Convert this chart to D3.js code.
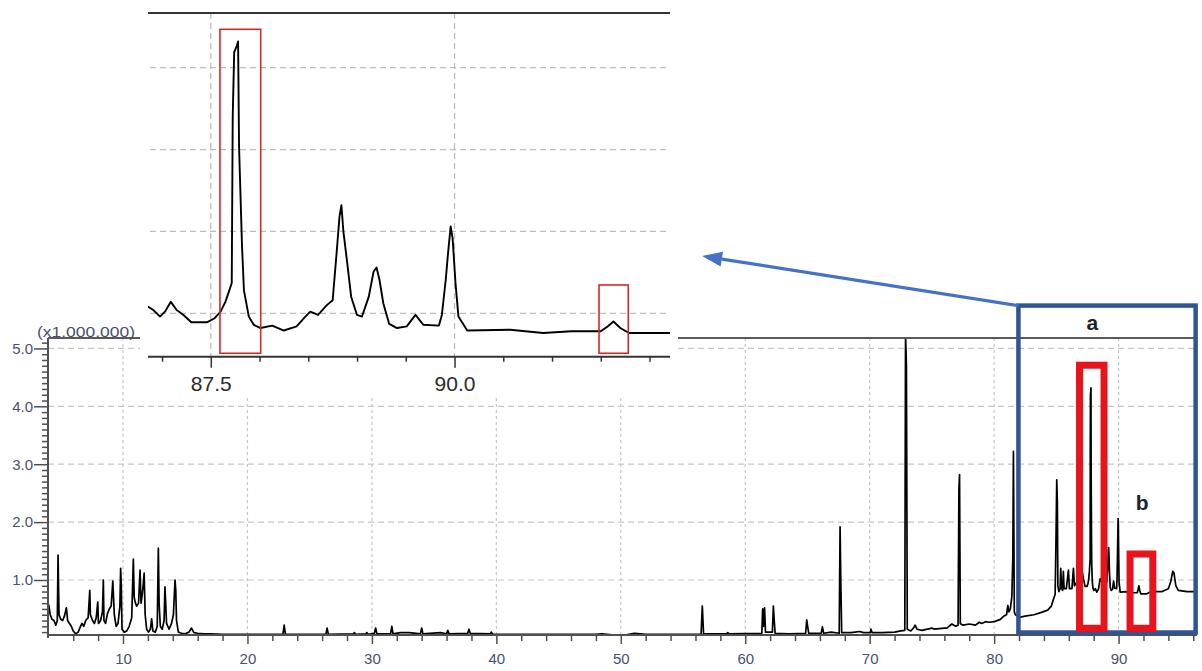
<!DOCTYPE html>
<html><head><meta charset="utf-8">
<script src="https://cdn.jsdelivr.net/npm/d3@7"></script>
<style>body{margin:0;background:#fff}svg{display:block;background:#fff}</style>
</head><body><svg id="c" width="1202" height="671"></svg>
<script>
// ---------- DATA (retention time in min, intensity in x1,000,000) ----------
const retentionTime = [
  3.97,4.05,4.15,4.30,4.45,4.60,4.72,4.78,4.82,4.86,
  5.00,5.15,5.30,5.45,5.55,5.70,5.85,6.00,6.20,6.40,
  6.55,6.70,6.85,7.00,7.20,7.33,7.38,7.55,7.70,7.85,
  7.97,8.03,8.20,8.35,8.42,8.47,8.60,8.75,8.90,9.05,
  9.18,9.24,9.30,9.45,9.60,9.75,9.81,9.86,9.92,10.10,
  10.30,10.50,10.70,10.83,10.90,11.00,11.10,11.25,11.37,11.45,
  11.55,11.70,11.78,11.90,12.05,12.20,12.30,12.40,12.60,12.75,
  12.84,12.90,13.00,13.15,13.30,13.37,13.43,13.50,13.70,13.90,
  14.05,14.18,14.24,14.30,14.45,14.70,15.00,15.30,15.50,15.70,
  16.00,16.50,17.00,18.00,19.00,20.00,21.00,22.00,22.85,22.95,
  23.05,26.30,26.40,26.50,28.50,28.60,28.70,29.50,29.60,29.70,
  30.20,30.30,30.40,31.50,31.60,31.70,32.30,33.00,33.90,34.00,
  34.10,35.50,36.00,36.10,36.20,37.70,37.80,37.90,39.50,39.60,
  39.70,42.00,45.00,48.00,48.50,49.50,50.10,51.10,52.00,55.00,
  56.45,56.55,56.65,58.50,58.60,58.70,61.33,61.40,61.47,61.55,
  61.63,62.18,62.26,62.32,62.40,63.50,64.85,64.94,65.00,65.10,
  66.10,66.20,66.30,66.90,67.55,67.62,67.68,67.75,68.50,69.20,
  69.50,70.05,70.10,70.20,71.00,72.00,72.50,72.82,72.88,72.95,
  73.02,73.30,73.55,73.65,73.80,74.20,75.00,75.20,76.00,76.20,
  76.60,76.90,77.10,77.17,77.22,77.28,77.50,78.00,78.50,78.80,
  79.00,79.30,79.60,80.00,80.50,80.80,81.00,81.10,81.18,81.30,
  81.42,81.50,81.55,81.62,81.70,82.10,82.60,83.20,83.80,84.30,
  84.60,84.75,84.90,84.97,85.03,85.08,85.12,85.20,85.30,85.35,
  85.42,85.50,85.56,85.62,85.80,85.97,86.05,86.25,86.37,86.45,
  86.60,86.75,86.86,86.91,86.98,87.03,87.09,87.15,87.22,87.30,
  87.46,87.54,87.60,87.65,87.69,87.715,87.725,87.74,87.765,87.78,
  87.79,87.82,87.84,87.89,87.94,88.01,88.13,88.25,88.38,88.47,
  88.52,88.60,88.69,88.75,88.79,88.82,88.84,88.86,88.90,88.94,
  89.00,89.05,89.12,89.17,89.20,89.23,89.27,89.33,89.41,89.51,
  89.56,89.60,89.64,89.68,89.84,89.87,89.91,89.93,89.96,89.98,
  90.01,90.04,90.13,90.57,90.91,91.20,91.50,91.57,91.63,91.70,
  91.79,92.22,92.50,93.00,93.50,94.00,94.20,94.35,94.45,94.60,
  94.80,95.50,96.30
];
const intensity = [
  0.60,0.55,0.40,0.32,0.30,0.22,0.30,1.43,0.90,0.40,
  0.32,0.30,0.38,0.52,0.30,0.25,0.20,0.12,0.07,0.10,
  0.18,0.25,0.20,0.30,0.35,0.82,0.40,0.30,0.25,0.35,
  0.62,0.25,0.30,0.45,1.00,0.30,0.25,0.42,0.50,0.55,
  0.98,0.70,0.40,0.20,0.25,0.55,1.20,0.90,0.15,0.10,
  0.12,0.20,0.35,1.36,0.70,0.60,0.55,0.60,1.17,0.60,
  0.75,1.12,0.40,0.15,0.10,0.15,0.33,0.12,0.10,0.20,
  1.55,0.60,0.20,0.15,0.30,0.88,0.60,0.25,0.15,0.25,
  0.40,1.00,0.82,0.30,0.10,0.08,0.07,0.10,0.17,0.09,
  0.08,0.07,0.07,0.06,0.06,0.06,0.06,0.06,0.06,0.22,
  0.06,0.06,0.17,0.06,0.07,0.09,0.06,0.07,0.09,0.06,
  0.08,0.17,0.07,0.07,0.20,0.07,0.09,0.09,0.07,0.17,
  0.07,0.09,0.07,0.13,0.07,0.08,0.15,0.08,0.07,0.10,
  0.06,0.06,0.06,0.06,0.07,0.05,0.04,0.08,0.06,0.06,
  0.06,0.55,0.07,0.07,0.09,0.07,0.08,0.50,0.20,0.52,
  0.10,0.10,0.55,0.33,0.08,0.07,0.08,0.31,0.22,0.08,
  0.08,0.19,0.08,0.10,0.08,1.92,0.95,0.09,0.09,0.11,
  0.09,0.09,0.15,0.09,0.09,0.10,0.12,0.13,5.25,4.71,
  0.15,0.12,0.18,0.22,0.15,0.13,0.17,0.15,0.17,0.17,
  0.24,0.20,0.22,2.57,2.82,0.25,0.22,0.24,0.22,0.27,
  0.25,0.28,0.27,0.28,0.32,0.38,0.40,0.56,0.45,0.50,
  0.71,1.38,3.22,0.45,0.40,0.36,0.38,0.40,0.44,0.48,
  0.55,0.66,0.75,1.70,2.73,2.35,0.90,0.80,0.85,1.20,
  0.85,0.82,1.15,0.85,0.85,1.17,0.85,0.85,1.20,0.90,
  0.95,1.00,1.08,1.04,0.96,1.02,1.14,1.04,0.98,0.89,
  0.89,0.94,1.02,1.14,1.28,1.37,3.40,4.19,4.26,4.32,
  3.03,1.83,1.28,0.96,0.86,0.82,0.85,0.79,0.84,0.96,
  1.02,0.98,1.10,1.16,1.73,2.18,2.32,2.00,1.61,1.20,
  0.98,0.96,1.20,1.51,1.56,1.41,1.12,0.87,0.82,0.84,
  0.92,0.98,0.92,0.86,0.85,0.98,1.41,1.69,2.06,1.92,
  1.37,0.96,0.79,0.80,0.76,0.78,0.78,0.84,0.90,0.82,
  0.76,0.76,0.79,0.80,0.80,0.85,0.98,1.15,1.12,0.90,
  0.82,0.80,0.80
];
const xTickLabels = [10, 20, 30, 40, 50, 60, 70, 80, 90];
const yTickLabels = [1, 2, 3, 4, 5];
const insetTickLabels = [87.5, 90.0];
const insetGridValues = [1, 2, 3, 4];
const unitLabel = "(x1,000,000)";
// annotations, in data units: [t0, t1, vTop, vBottom]
const zoomRegionA = [81.95, 96.19, 5.74, 0.093];
const mainRedBoxes = [[86.86, 88.83, 4.71, 0.166], [90.92, 92.75, 1.449, 0.166]];
const insetRedBoxes = [[87.594, 88.012, 4.469, 0.512], [91.482, 91.782, 1.346, 0.512]];
const regionLabels = [{text: "a", t: 87.9, v: 5.32}, {text: "b", t: 91.89, v: 2.21}];
const arrowFromTo = [[81.95, 5.74], [56.53, 6.597]];

// ---------- CHART ----------
const svg = d3.select("#c");
const data = d3.zip(retentionTime, intensity);
const x = d3.scaleLinear().domain([3.973, 96.3]).range([48, 1197]);
const y = d3.scaleLinear().domain([0.05, 5.18]).range([635, 338]);
const [X0, X1] = x.range(), [Y0, Y1] = y.range();
const FONT = "'Liberation Sans', Arial, sans-serif";
const LABEL_COLOR = "#4a5070";

const defs = svg.append("defs");
defs.append("clipPath").attr("id", "mainClip").append("rect")
  .attr("x", X0).attr("y", Y1).attr("width", X1 - X0).attr("height", Y0 - Y1);

// grid
const grid = svg.append("g");
grid.selectAll("line.gh").data(yTickLabels).join("line").attr("class", "gh")
  .attr("x1", X0).attr("x2", X1).attr("y1", d => y(d)).attr("y2", d => y(d))
  .attr("stroke", "#c6c6c6").attr("stroke-width", 1.2).attr("stroke-dasharray", "6,4");
grid.selectAll("line.gv").data(xTickLabels).join("line").attr("class", "gv")
  .attr("x1", d => x(d)).attr("x2", d => x(d)).attr("y1", Y1).attr("y2", Y0)
  .attr("stroke", "#c6c6c6").attr("stroke-width", 1.2).attr("stroke-dasharray", "3,3");

// trace
const line = d3.line().x(d => x(d[0])).y(d => y(d[1]));
svg.append("path").datum(data).attr("clip-path", "url(#mainClip)")
  .attr("d", line).attr("fill", "none").attr("stroke", "#000").attr("stroke-width", 1.7)
  .attr("stroke-linejoin", "round");

// axes
const AX = "#505050";
const xMinor = d3.range(6, 97, 2).filter(d => d % 10 !== 0);
svg.append("g").attr("transform", `translate(0,${Y0})`)
  .call(d3.axisBottom(x).tickValues(xMinor).tickSize(6).tickFormat(""))
  .call(g => g.select(".domain").remove())
  .call(g => g.selectAll("line").attr("stroke", AX).attr("stroke-width", 1.5));
svg.append("g").attr("transform", `translate(0,${Y0})`)
  .call(d3.axisBottom(x).tickValues(xTickLabels).tickSize(9).tickPadding(9).tickFormat(d3.format("d")))
  .call(g => g.select(".domain").remove())
  .call(g => g.selectAll("line").attr("stroke", AX).attr("stroke-width", 1.5))
  .call(g => g.selectAll("text").attr("font-family", FONT).attr("font-size", 15).attr("fill", LABEL_COLOR));
const yMinor = d3.range(1, 52).filter(i => i % 10 !== 0).map(i => i / 10);
svg.append("g").attr("transform", `translate(${X0},0)`)
  .call(d3.axisLeft(y).tickValues(yMinor).tickSize(6).tickFormat(""))
  .call(g => g.select(".domain").remove())
  .call(g => g.selectAll("line").attr("stroke", AX).attr("stroke-width", 1.5));
svg.append("g").attr("transform", `translate(${X0},0)`)
  .call(d3.axisLeft(y).tickValues(yTickLabels).tickSize(14).tickPadding(1).tickFormat(d3.format(".1f")))
  .call(g => g.select(".domain").remove())
  .call(g => g.selectAll("line").attr("stroke", AX).attr("stroke-width", 1.5))
  .call(g => g.selectAll("text").attr("font-family", FONT).attr("font-size", 15).attr("fill", LABEL_COLOR));
// axis lines + top frame
svg.append("line").attr("x1", X0).attr("x2", X0).attr("y1", Y1).attr("y2", Y0 + 3)
  .attr("stroke", AX).attr("stroke-width", 2);
svg.append("line").attr("x1", X0).attr("x2", X1).attr("y1", Y0).attr("y2", Y0)
  .attr("stroke", AX).attr("stroke-width", 2);
svg.append("line").attr("x1", X0).attr("x2", X1).attr("y1", Y1).attr("y2", Y1)
  .attr("stroke", "#5a5a5a").attr("stroke-width", 2);
svg.append("text").attr("x", X0 - 11).attr("y", Y1 - 1).text(unitLabel)
  .attr("font-family", FONT).attr("font-size", 15).attr("fill", LABEL_COLOR)
  .attr("textLength", 98).attr("lengthAdjust", "spacingAndGlyphs");

// ---------- INSET ----------
const ix = d3.scaleLinear().domain([86.856, 92.21]).range([148, 670]);
const iy = d3.scaleLinear().domain([0.47, 4.668]).range([356.7, 13]);
const [IX0, IX1] = ix.range(), [IY0, IY1] = iy.range();
const inset = svg.append("g");
inset.append("rect").attr("x", IX0 - 8).attr("y", 0).attr("width", IX1 - IX0 + 16).attr("height", 398)
  .attr("fill", "#fff");
defs.append("clipPath").attr("id", "insetClip").append("rect")
  .attr("x", IX0).attr("y", IY1).attr("width", IX1 - IX0).attr("height", IY0 - IY1);
inset.selectAll("line.ih").data(insetGridValues).join("line").attr("class", "ih")
  .attr("x1", IX0 + 2).attr("x2", IX1).attr("y1", d => iy(d)).attr("y2", d => iy(d))
  .attr("stroke", "#bdbdbd").attr("stroke-width", 1.3).attr("stroke-dasharray", "6,4");
inset.selectAll("line.iv").data(insetTickLabels).join("line").attr("class", "iv")
  .attr("x1", d => ix(d)).attr("x2", d => ix(d)).attr("y1", IY1).attr("y2", IY0)
  .attr("stroke", "#bdbdbd").attr("stroke-width", 1.3).attr("stroke-dasharray", "6,4");
const iline = d3.line().x(d => ix(d[0])).y(d => iy(d[1]));
inset.append("path").datum(data.filter(d => d[0] >= 86.7 && d[0] <= 92.4))
  .attr("clip-path", "url(#insetClip)").attr("d", iline)
  .attr("fill", "none").attr("stroke", "#000").attr("stroke-width", 1.9).attr("stroke-linejoin", "round");
const insetMinor = d3.range(174, 185).map(i => i / 2).filter(d => !insetTickLabels.includes(d));
inset.append("g").attr("transform", `translate(0,${IY0})`)
  .call(d3.axisBottom(ix).tickValues(insetMinor).tickSize(5).tickFormat(""))
  .call(g => g.select(".domain").remove())
  .call(g => g.selectAll("line").attr("stroke", "#333").attr("stroke-width", 1.5));
inset.append("g").attr("transform", `translate(0,${IY0})`)
  .call(d3.axisBottom(ix).tickValues(insetTickLabels).tickSize(11).tickPadding(8).tickFormat(d3.format(".1f")))
  .call(g => g.select(".domain").remove())
  .call(g => g.selectAll("line").attr("stroke", "#333").attr("stroke-width", 1.5))
  .call(g => g.selectAll("text").attr("font-family", FONT).attr("font-size", 21).attr("fill", "#2a2a2a"));
inset.append("line").attr("x1", IX0).attr("x2", IX1).attr("y1", IY0).attr("y2", IY0)
  .attr("stroke", "#333").attr("stroke-width", 2);
inset.append("line").attr("x1", IX0).attr("x2", IX1).attr("y1", IY1).attr("y2", IY1)
  .attr("stroke", "#333").attr("stroke-width", 2);
inset.selectAll("rect.ibox").data(insetRedBoxes).join("rect").attr("class", "ibox")
  .attr("x", d => ix(d[0])).attr("y", d => iy(d[2]))
  .attr("width", d => ix(d[1]) - ix(d[0])).attr("height", d => iy(d[3]) - iy(d[2]))
  .attr("fill", "none").attr("stroke", "#d42a2a").attr("stroke-width", 1.6);

// ---------- ANNOTATIONS ----------
svg.append("rect")
  .attr("x", x(zoomRegionA[0])).attr("y", y(zoomRegionA[2]))
  .attr("width", x(zoomRegionA[1]) - x(zoomRegionA[0])).attr("height", y(zoomRegionA[3]) - y(zoomRegionA[2]))
  .attr("fill", "none").attr("stroke", "#2F5597").attr("stroke-width", 4.5);
svg.selectAll("rect.mbox").data(mainRedBoxes).join("rect").attr("class", "mbox")
  .attr("x", d => x(d[0])).attr("y", d => y(d[2]))
  .attr("width", d => x(d[1]) - x(d[0])).attr("height", d => y(d[3]) - y(d[2]))
  .attr("fill", "none").attr("stroke", "#E8131B").attr("stroke-width", 7);
svg.selectAll("text.rl").data(regionLabels).join("text").attr("class", "rl")
  .attr("x", d => x(d.t)).attr("y", d => y(d.v)).attr("text-anchor", "middle")
  .attr("font-family", FONT).attr("font-weight", "bold").attr("font-size", 21).attr("fill", "#1e1e2e")
  .text(d => d.text);
// arrow
const [p0, p1] = arrowFromTo.map(d => [x(d[0]), y(d[1])]);
const dx = p1[0] - p0[0], dy = p1[1] - p0[1], L = Math.hypot(dx, dy);
const ux = dx / L, uy = dy / L, hl = 20, hw = 7.5;
const base = [p1[0] - ux * hl, p1[1] - uy * hl];
svg.append("line").attr("x1", p0[0]).attr("y1", p0[1]).attr("x2", base[0]).attr("y2", base[1])
  .attr("stroke", "#4472C4").attr("stroke-width", 3.2);
svg.append("path").attr("d", d3.line()([p1, [base[0] - uy * hw, base[1] + ux * hw], [base[0] + uy * hw, base[1] - ux * hw]]) + "Z")
  .attr("fill", "#4472C4");
</script></body></html>
